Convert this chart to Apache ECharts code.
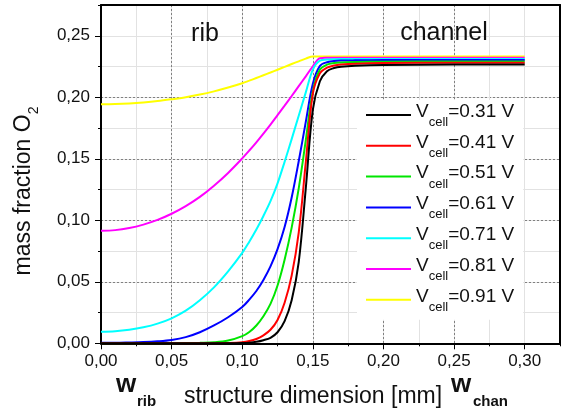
<!DOCTYPE html>
<html>
<head>
<meta charset="utf-8">
<script src="https://cdn.jsdelivr.net/npm/echarts@6/dist/echarts.min.js"></script>
<style>
html,body{margin:0;padding:0;background:#fff;}
#c{width:561px;height:419px;}
</style>
</head>
<body>
<div id="c"></div>
<script>
// ---- data ----
const xPos = [0, 0.01, 0.02, 0.03, 0.04, 0.05, 0.06, 0.07, 0.08, 0.09, 0.10, 0.105, 0.11, 0.115, 0.12, 0.125, 0.13, 0.135, 0.14, 0.145, 0.15, 0.155, 0.16, 0.165, 0.17, 0.18, 0.20, 0.25, 0.30];
const v031 = [0, 0, 0, 0, 0, 0, 0, 0, 0, 0, 0.0002, 0.0005, 0.0012, 0.0025, 0.0045, 0.009, 0.018, 0.035, 0.066, 0.126, 0.19, 0.213, 0.2212, 0.2238, 0.2249, 0.2257, 0.2263, 0.2266, 0.2267];
const v041 = [0, 0, 0, 0, 0, 0, 0, 0, 0.0001, 0.0003, 0.0009, 0.0018, 0.0035, 0.0065, 0.011, 0.019, 0.033, 0.055, 0.09, 0.147, 0.203, 0.2195, 0.224, 0.2258, 0.2266, 0.2273, 0.2278, 0.228, 0.228];
const v051 = [0, 0, 0, 0, 0, 0.0001, 0.0002, 0.0004, 0.0008, 0.0022, 0.0058, 0.0092, 0.0145, 0.022, 0.032, 0.047, 0.068, 0.094, 0.126, 0.165, 0.205, 0.2225, 0.2265, 0.2278, 0.2283, 0.2286, 0.2289, 0.229, 0.229];
const v061 = [0.0005, 0.0005, 0.0007, 0.001, 0.0016, 0.0027, 0.005, 0.009, 0.0145, 0.0212, 0.0295, 0.0355, 0.0425, 0.0515, 0.0625, 0.0765, 0.0945, 0.1185, 0.148, 0.18, 0.211, 0.2255, 0.2285, 0.2294, 0.2298, 0.23, 0.2302, 0.2302, 0.2302];
const v071 = [0.0094, 0.0098, 0.011, 0.013, 0.016, 0.0203, 0.0265, 0.035, 0.0455, 0.0585, 0.0735, 0.0826, 0.0925, 0.1035, 0.1155, 0.130, 0.1475, 0.166, 0.185, 0.204, 0.2225, 0.2298, 0.2307, 0.231, 0.2311, 0.2312, 0.2312, 0.2312, 0.2312];
const v081 = [0.0915, 0.092, 0.0937, 0.0965, 0.1003, 0.1053, 0.1115, 0.119, 0.1281, 0.1385, 0.1503, 0.1567, 0.1634, 0.1705, 0.1778, 0.1855, 0.1932, 0.201, 0.209, 0.217, 0.2252, 0.2318, 0.2321, 0.2322, 0.2322, 0.2322, 0.2322, 0.2322, 0.2322];
const v091 = [0.1943, 0.1945, 0.195, 0.1958, 0.1969, 0.1984, 0.2001, 0.2022, 0.2048, 0.2079, 0.2114, 0.2135, 0.2157, 0.2179, 0.2201, 0.2224, 0.2247, 0.227, 0.2292, 0.2314, 0.2332, 0.2332, 0.2332, 0.2332, 0.2332, 0.2332, 0.2332, 0.2332, 0.2332];
const seriesNames = ['0.31 V', '0.41 V', '0.51 V', '0.61 V', '0.71 V', '0.81 V', '0.91 V'];
const seriesValues = [v031, v041, v051, v061, v071, v081, v091];
const seriesColors = ['#000000', '#ff0000', '#00e600', '#0000ff', '#00ffff', '#ff00ff', '#ffff00'];
const xMajorTicks = [0, 0.05, 0.10, 0.15, 0.20, 0.25, 0.30];
const yMajorTicks = [0, 0.05, 0.10, 0.15, 0.20, 0.25];

const FF = '"Liberation Sans", Arial, Helvetica, sans-serif';
const TXT = '#111';
const fmt = v => v.toFixed(2).replace('.', ',');

const chart = echarts.init(document.getElementById('c'), null, {renderer: 'canvas'});

const gridCfg = {left: 101, top: 5, width: 459, height: 338.3, containLabel: false, outerBoundsMode: 'none'};

function minorAxis(min, max, pos) {
  return {
    type: 'value', min: min, max: max, interval: 0.025, position: pos,
    axisLine: {show: false, onZero: false},
    axisTick: {show: true, inside: false, length: 3, lineStyle: {color: '#000', width: 1}},
    axisLabel: {show: false},
    splitLine: {show: true, showMinLine: false, showMaxLine: false, lineStyle: {color: '#e2e2e2', width: 1}}
  };
}
function majorAxis(min, max, ticks, pos) {
  return {
    type: 'value', min: min, max: max, interval: 0.05, position: pos,
    axisLine: {show: false, onZero: false},
    axisTick: {show: true, inside: false, length: 6, customValues: ticks, lineStyle: {color: '#000', width: 1}},
    axisLabel: {show: true, customValues: ticks, formatter: fmt, fontSize: 17, fontFamily: FF, color: TXT, margin: 10},
    splitLine: {show: true, showMinLine: false, showMaxLine: false, lineStyle: {color: '#808080', width: 1, type: [2, 2]}}
  };
}
function frameAxis(min, max, pos) {
  return {
    type: 'value', min: min, max: max, position: pos, z: 1,
    axisLine: {show: true, onZero: false, lineStyle: {color: '#000', width: 2}},
    axisTick: {show: false}, axisLabel: {show: false}, splitLine: {show: false}
  };
}

const xMinor = minorAxis(0, 0.325, 'bottom');
const xMajor = majorAxis(0, 0.325, xMajorTicks, 'bottom');
xMajor.axisLabel.margin = 10;
const yMinor = minorAxis(0, 0.275, 'left');
const yMajor = majorAxis(0, 0.275, yMajorTicks, 'left');
yMajor.axisLabel.margin = 11;

const series = seriesNames.map((n, i) => ({
  name: 'Vcell=' + n,
  type: 'line',
  xAxisIndex: 0, yAxisIndex: 0,
  data: xPos.map((x, k) => [x, seriesValues[i][k]]),
  showSymbol: false,
  smooth: 0.35,
  z: 9 - i,
  lineStyle: {color: seriesColors[i], width: 2},
  itemStyle: {color: seriesColors[i]},
  emphasis: {disabled: true},
  animation: false
}));

chart.setOption({
  animation: false,
  backgroundColor: '#fff',
  grid: gridCfg,
  xAxis: [xMinor, xMajor, frameAxis(0, 0.325, 'bottom'), frameAxis(0, 0.325, 'top')],
  yAxis: [yMinor, yMajor, frameAxis(0, 0.275, 'left'), frameAxis(0, 0.275, 'right')],
  legend: {
    orient: 'vertical', left: 357, top: 100, z: 20,
    padding: [2, 9, 6, 9],
    backgroundColor: '#fff',
    itemWidth: 45, itemHeight: 2, itemGap: 3.8,
    icon: 'rect',
    selectedMode: false,
    formatter: name => '{v|V}{s|cell}{v|' + name.slice(5) + '}',
    textStyle: {
      color: TXT, fontFamily: FF, fontSize: 19,
      rich: {
        v: {fontSize: 19, fontFamily: FF, color: TXT, lineHeight: 26, verticalAlign: 'top'},
        s: {fontSize: 13, fontFamily: FF, color: TXT, lineHeight: 13, padding: [14, 0, 0, 0], verticalAlign: 'top'}
      }
    }
  },
  graphic: [
    {type: 'text', x: 205, y: 34.5, z: 10, style: {text: 'rib', fontSize: 25, fontFamily: FF, fill: TXT, align: 'center', verticalAlign: 'middle'}},
    {type: 'text', x: 444, y: 33.5, z: 10, style: {text: 'channel', fontSize: 25, fontFamily: FF, fill: TXT, align: 'center', verticalAlign: 'middle'}},
    {type: 'text', x: 313, y: 397, z: 10, style: {text: 'structure dimension [mm]', fontSize: 23, fontFamily: FF, fill: TXT, align: 'center', verticalAlign: 'middle'}},
    {type: 'text', x: 126, y: 385, z: 10, style: {text: 'w', fontSize: 26, fontWeight: 'bold', fontFamily: FF, fill: TXT, align: 'center', verticalAlign: 'middle'}},
    {type: 'text', x: 137, y: 402, z: 10, style: {text: 'rib', fontSize: 15, fontWeight: 'bold', fontFamily: FF, fill: TXT, align: 'left', verticalAlign: 'middle'}},
    {type: 'text', x: 461, y: 385, z: 10, style: {text: 'w', fontSize: 26, fontWeight: 'bold', fontFamily: FF, fill: TXT, align: 'center', verticalAlign: 'middle'}},
    {type: 'text', x: 473, y: 402, z: 10, style: {text: 'chan', fontSize: 15, fontWeight: 'bold', fontFamily: FF, fill: TXT, align: 'left', verticalAlign: 'middle'}},
    {type: 'text', x: 26, y: 191, rotation: Math.PI / 2, z: 10, style: {
      text: '{a|mass fraction O}{b|2}', align: 'center', verticalAlign: 'middle', fill: TXT,
      rich: {
        a: {fontSize: 23, fontFamily: FF, fill: TXT, color: TXT, lineHeight: 28, verticalAlign: 'top'},
        b: {fontSize: 14, fontFamily: FF, fill: TXT, color: TXT, lineHeight: 14, padding: [15, 0, 0, 0], verticalAlign: 'top'}
      }
    }}
  ],
  series: series
});
</script>
</body>
</html>
